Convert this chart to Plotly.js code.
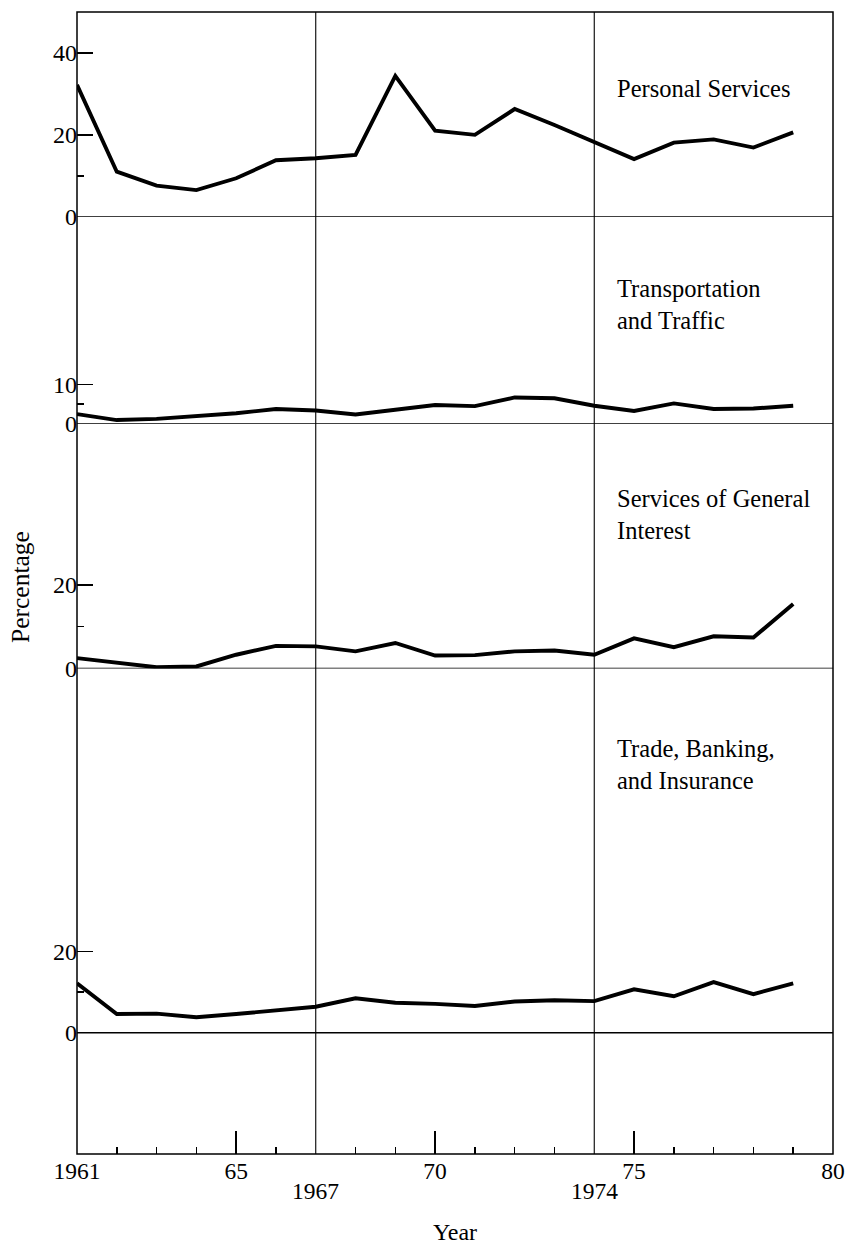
<!DOCTYPE html>
<html>
<head>
<meta charset="utf-8">
<script src="https://cdn.plot.ly/plotly-3.0.1.min.js"></script>
<style>html,body{margin:0;padding:0;background:#fff;}#chart{width:847px;height:1245px;}</style>
</head>
<body>
<div id="chart"></div>
<script>
// ---- data ----
const years = [1961, 1962, 1963, 1964, 1965, 1966, 1967, 1968, 1969, 1970,
               1971, 1972, 1973, 1974, 1975, 1976, 1977, 1978, 1979];
const personalServices = [32.2, 11.0, 7.6, 6.5, 9.4, 13.8, 14.3, 15.1, 34.4, 21.0,
                          20.0, 26.3, 22.4, 18.3, 14.1, 18.1, 18.9, 16.9, 20.6];
const transportation = [2.5, 1.0, 1.3, 2.0, 2.7, 3.8, 3.4, 2.4, 3.5, 4.8,
                        4.5, 6.7, 6.5, 4.6, 3.3, 5.2, 3.8, 3.9, 4.6];
const generalInterest = [2.5, 1.3, 0.3, 0.5, 3.3, 5.4, 5.3, 4.1, 6.1, 3.1,
                         3.2, 4.1, 4.3, 3.3, 7.2, 5.1, 7.7, 7.4, 15.4];
const tradeBanking = [12.2, 4.6, 4.7, 3.8, 4.6, 5.6, 6.4, 8.5, 7.4, 7.1,
                      6.6, 7.7, 8.0, 7.8, 10.7, 9.0, 12.5, 9.5, 12.2];

const panelNames = ['Personal Services', 'Transportation<br>and Traffic',
                    'Services of General<br>Interest', 'Trade, Banking,<br>and Insurance'];
const panelSeries = [personalServices, transportation, generalInterest, tradeBanking];

const xTickVals = [1961, 1965, 1970, 1975, 1980];
const xTickText = ['1961', '65', '70', '75', '80'];
const xMinorVals = [1962, 1963, 1964, 1966, 1968, 1969, 1971, 1972, 1973, 1976, 1977, 1978, 1979];
const markerYears = [1967, 1974];
const markerLabels = ['1967', '1974'];

const yTickVals = [[0, 20, 40], [0, 10], [0, 20], [0, 20]];
const yMinorVals = [[10], [5], [10], [10]];

// ---- layout helpers (styling only) ----
const FONT = "'Liberation Serif', 'Times New Roman', serif";
const ranges = [[0, 50], [0, 52.2], [0, 58.4], [-30, 90]];
const domains = [[0.8207, 1], [0.6392, 0.8207], [0.4251, 0.6392], [0, 0.4251]];
const labelY = [0.9326, 0.7439, 0.5598, 0.3408];

const traces = panelSeries.map((vals, i) => ({
  x: years, y: vals, type: 'scatter', mode: 'lines',
  xaxis: 'x', yaxis: i === 0 ? 'y' : 'y' + (i + 1),
  line: {color: '#000', width: 3.9}, hoverinfo: 'skip', showlegend: false
}));

const layout = {
  width: 847, height: 1245,
  margin: {l: 77, r: 14, t: 12, b: 91},
  paper_bgcolor: '#fff', plot_bgcolor: '#fff',
  font: {family: FONT, size: 23, color: '#000'},
  showlegend: false,
  xaxis: {
    anchor: 'y4', range: [1961, 1980], showgrid: false, zeroline: false,
    showline: false, ticks: 'inside', ticklen: 23, tickwidth: 1.5, tickcolor: '#000',
    tickmode: 'array', tickvals: xTickVals, ticktext: xTickText,
    tickfont: {family: FONT, size: 23.5, color: '#000'},
    minor: {tickmode: 'array', tickvals: xMinorVals, ticks: 'inside', ticklen: 7,
            tickwidth: 1.5, tickcolor: '#000', showgrid: false},
    title: {text: 'Year', font: {family: FONT, size: 24, color: '#000'}, standoff: 40}
  },
  shapes: [],
  annotations: []
};

for (let i = 0; i < 4; i++) {
  const key = i === 0 ? 'yaxis' : 'yaxis' + (i + 1);
  layout[key] = {
    domain: domains[i], range: ranges[i], anchor: 'x',
    showgrid: false, zeroline: false, showline: false,
    ticks: 'inside', ticklen: 16, tickwidth: 1.5, tickcolor: '#000',
    tickmode: 'array', tickvals: yTickVals[i], ticktext: yTickVals[i].map(String),
    tickfont: {family: FONT, size: 24, color: '#000'},
    ticklabelstandoff: -1,
    minor: {tickmode: 'array', tickvals: yMinorVals[i], ticks: 'inside', ticklen: 7,
            tickwidth: 1.5, tickcolor: '#000', showgrid: false}
  };
  // zero line of each panel
  layout.shapes.push({type: 'line', xref: 'paper', x0: 0, x1: 1,
    yref: i === 0 ? 'y' : 'y' + (i + 1), y0: 0, y1: 0,
    line: {color: '#000', width: 1.5}});
  layout.annotations.push({text: panelNames[i], xref: 'paper', yref: 'paper',
    x: 0.711, y: labelY[i], xanchor: 'left', yanchor: 'middle', align: 'left',
    showarrow: false, font: {family: FONT, size: 24.5, color: '#000'}});
}

// outer frame
layout.shapes.push({type: 'rect', xref: 'paper', yref: 'paper', x0: 0, x1: 1, y0: 0, y1: 1,
  line: {color: '#000', width: 1.5}});
// vertical period lines
markerYears.forEach((yr, k) => {
  layout.shapes.push({type: 'line', xref: 'x', x0: yr, x1: yr, yref: 'paper', y0: 0, y1: 1,
    line: {color: '#000', width: 1.1}});
  layout.annotations.push({text: markerLabels[k], xref: 'x', yref: 'paper', x: yr, y: 0,
    xanchor: 'center', yanchor: 'middle', yshift: -37, showarrow: false,
    font: {family: FONT, size: 23.5, color: '#000'}});
});
// shared y title
layout.annotations.push({text: 'Percentage', xref: 'paper', yref: 'paper', x: 0, y: 0.5,
  xanchor: 'center', yanchor: 'middle', xshift: -57, yshift: -4, textangle: -90,
  showarrow: false, font: {family: FONT, size: 25.5, color: '#000'}});

Plotly.newPlot('chart', traces, layout, {displayModeBar: false, staticPlot: true});
</script>
</body>
</html>
